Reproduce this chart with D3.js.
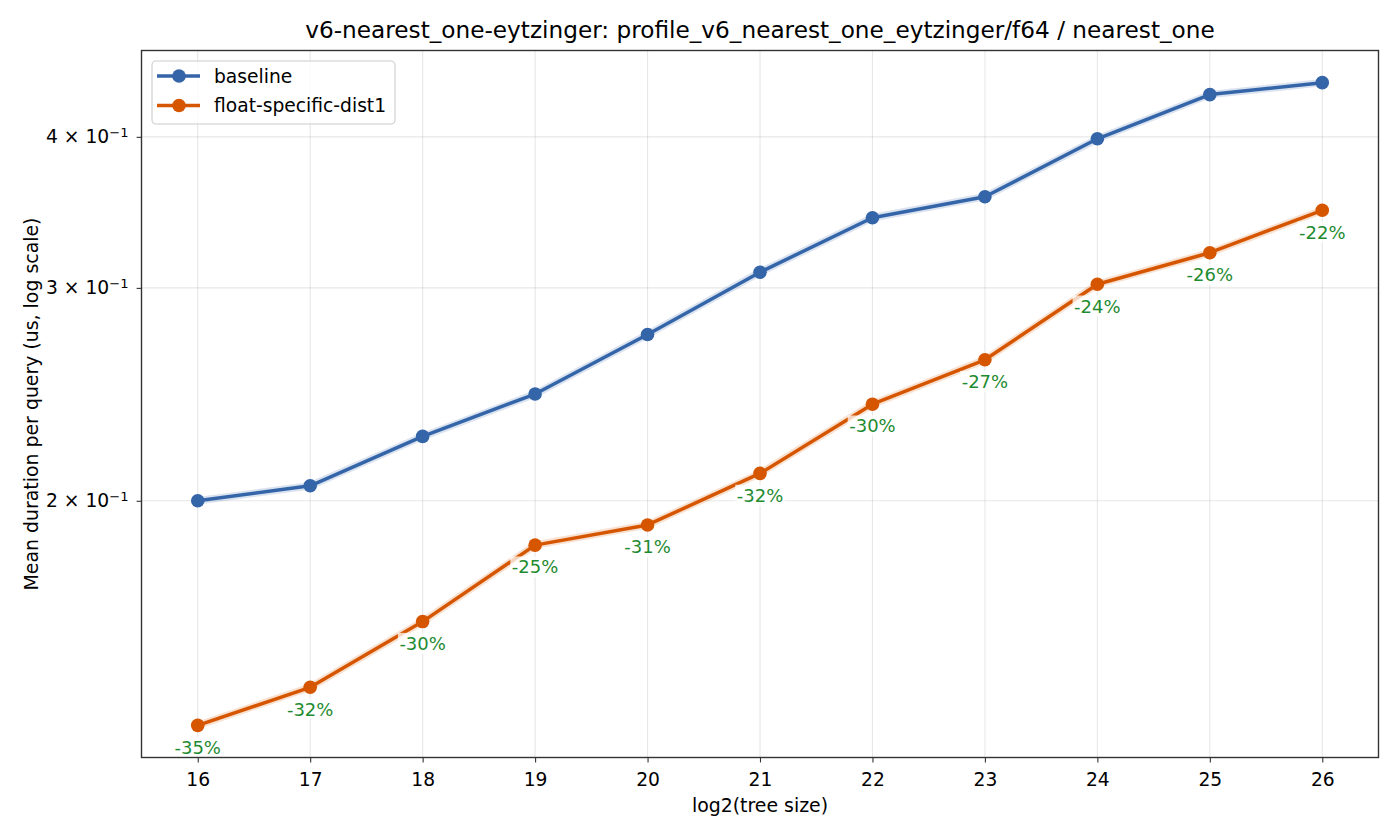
<!DOCTYPE html>
<html><head><meta charset="utf-8">
<script src="https://cdn.jsdelivr.net/npm/d3@7"></script>
<style>
html,body{margin:0;padding:0;background:#fff;}
text{font-family:"DejaVu Sans",sans-serif;}
</style></head>
<body><svg id="c" width="1400" height="840"></svg>
<script>
const treeSizes = [16,17,18,19,20,21,22,23,24,25,26];
const baseline = [0.2000,0.2058,0.2261,0.2451,0.2745,0.3091,0.3429,0.3569,0.3985,0.4335,0.4435];
const floatSpecific = [0.1304,0.1402,0.1589,0.1838,0.1910,0.2107,0.2404,0.2616,0.3021,0.3208,0.3478];
const pctLabels = ["-35%","-32%","-30%","-25%","-31%","-32%","-30%","-27%","-24%","-26%","-22%"];
const yTicks = [0.2,0.3,0.4];
const yTickMant = ["2","3","4"];
const seriesNames = ["baseline","float-specific-dist1"];
const colors = ["#3465a9","#d65600"];

const svg = d3.select("#c");
const L=141.5,R=1378.5,T=50.5,B=757.5;
const FS=18.7;
const x = d3.scaleLinear().domain([15.5,26.5]).range([L,R]);
const all = baseline.concat(floatSpecific);
const lmin = Math.log10(d3.min(all)), lmax = Math.log10(d3.max(all));
const pad = (lmax-lmin)*0.05;
const y = d3.scaleLog().domain([Math.pow(10,lmin-pad),Math.pow(10,lmax+pad)]).range([B,T]);

// grid
const g = svg.append("g");
g.selectAll(".gx").data(treeSizes).join("line")
  .attr("x1",d=>x(d)).attr("x2",d=>x(d)).attr("y1",T).attr("y2",B)
  .attr("stroke","#b0b0b0").attr("stroke-opacity",0.3).attr("stroke-width",1.1);
g.selectAll(".gy").data(yTicks).join("line")
  .attr("x1",L).attr("x2",R).attr("y1",d=>y(d)).attr("y2",d=>y(d))
  .attr("stroke","#b0b0b0").attr("stroke-opacity",0.3).attr("stroke-width",1.1);

// axes
const xAxis = d3.axisBottom(x).tickValues(treeSizes).tickSize(4.9).tickPadding(10.5).tickFormat(d3.format("d"));
const xg = svg.append("g").attr("transform",`translate(0,${B})`).call(xAxis);
xg.select(".domain").remove();
xg.selectAll("text").attr("font-size",FS+"px").attr("fill","#000").attr("font-family","DejaVu Sans");
xg.selectAll("line").attr("stroke","#333").attr("stroke-width",1.1);

const yAxis = d3.axisLeft(y).tickValues(yTicks).tickSize(4.9).tickPadding(6).tickFormat("");
const yg = svg.append("g").attr("transform",`translate(${L},0)`).call(yAxis);
yg.select(".domain").remove();
yg.selectAll("line").attr("stroke","#333").attr("stroke-width",1.1);
yg.selectAll(".tick").each(function(d,i){
  const t = d3.select(this).append("text").attr("x",-13).attr("dy","0.32em")
    .attr("text-anchor","end").attr("font-size",FS+"px").attr("fill","#000");
  t.append("tspan").text(yTickMant[i]+" \u00d7 10");
  t.append("tspan").attr("dy","-0.5em").attr("font-size",(FS*0.7)+"px").text("\u22121");
});

const line = d3.line().x((d,i)=>x(treeSizes[i])).y(d=>y(d));
[baseline,floatSpecific].forEach((s,k)=>{
  svg.append("path").datum(s).attr("d",line).attr("fill","none")
    .attr("stroke",colors[k]).attr("stroke-opacity",0.18).attr("stroke-width",7.5);
  svg.append("path").datum(s).attr("d",line).attr("fill","none")
    .attr("stroke",colors[k]).attr("stroke-width",3.5).attr("stroke-linejoin","round");
  svg.append("g").selectAll("circle").data(s).join("circle")
    .attr("cx",(d,i)=>x(treeSizes[i])).attr("cy",d=>y(d)).attr("r",6.8).attr("fill",colors[k]);
});

// pct labels
const lg = svg.append("g");
floatSpecific.forEach((v,i)=>{
  const gg = lg.append("g");
  const t = gg.append("text").attr("x",x(treeSizes[i])).attr("y",y(v)+22).attr("dy","0.35em")
    .attr("text-anchor","middle").attr("font-size","18px").attr("fill","#1f8b30").text(pctLabels[i]);
  const bb = t.node().getBBox();
  gg.insert("rect","text").attr("x",bb.x-1.5).attr("y",bb.y).attr("width",bb.width+3).attr("height",bb.height)
    .attr("fill","#fff").attr("fill-opacity",0.75);
});

// frame
svg.append("rect").attr("x",L).attr("y",T).attr("width",R-L).attr("height",B-T)
  .attr("fill","none").attr("stroke","#333").attr("stroke-width",1.4);

// legend
const leg = svg.append("g");
leg.append("rect").attr("x",152).attr("y",61).attr("width",243).attr("height",63).attr("rx",4)
  .attr("fill","#fff").attr("fill-opacity",0.8).attr("stroke","#cccccc").attr("stroke-width",1.1);
seriesNames.forEach((n,k)=>{
  const yy = 76+k*29.5;
  leg.append("line").attr("x1",157).attr("x2",200).attr("y1",yy).attr("y2",yy).attr("stroke",colors[k]).attr("stroke-width",3.5);
  leg.append("circle").attr("cx",179).attr("cy",yy).attr("r",6.8).attr("fill",colors[k]);
  leg.append("text").attr("x",214).attr("y",yy).attr("dy","0.35em").attr("font-size",FS+"px").attr("fill","#000").text(n);
});

// titles
svg.append("text").attr("x",(L+R)/2).attr("y",38).attr("text-anchor","middle").attr("font-size","23.2px").attr("fill","#000")
  .text("v6-nearest_one-eytzinger: profile_v6_nearest_one_eytzinger/f64 / nearest_one");
svg.append("text").attr("x",(L+R)/2).attr("y",812).attr("text-anchor","middle").attr("font-size","18.9px").attr("fill","#000")
  .text("log2(tree size)");
svg.append("text").attr("transform",`translate(37.5,${(T+B)/2}) rotate(-90)`).attr("text-anchor","middle").attr("font-size","18.9px").attr("fill","#000")
  .text("Mean duration per query (us, log scale)");
</script></body></html>
